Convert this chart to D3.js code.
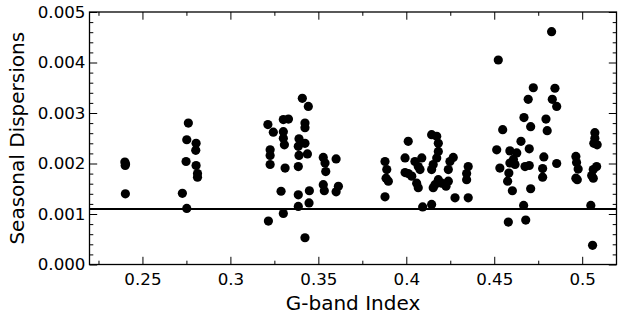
<!DOCTYPE html>
<html><head><meta charset="utf-8">
<script src="https://cdn.jsdelivr.net/npm/d3@7/dist/d3.min.js"></script>
<style>
html,body{margin:0;padding:0;background:#fff;}
svg{display:block;}
text{font-family:"DejaVu Sans",sans-serif;fill:#000;}
</style></head>
<body><svg id="chart" width="618" height="316"></svg>
<script>
// G-band index (x) and seasonal dispersion (y) of each star
const gIndex = [
  0.2400,0.2404,0.2402,0.2403,
  0.2761,0.2752,0.2805,0.2803,0.2748,0.2805,0.2813,0.2813,0.2727,0.2752,
  0.3409,0.3443,0.3213,0.3244,0.3301,0.3330,0.3424,0.3424,0.3301,0.3301,0.3307,0.3390,0.3424,0.3386,0.3390,0.3438,
  0.3226,0.3226,0.3226,0.3311,0.3386,0.3528,0.3538,0.3601,0.3542,0.3528,0.3534,0.3614,0.3601,0.3288,0.3386,0.3449,
  0.3386,0.3447,0.3301,0.3216,0.3424,
  0.3879,0.3889,0.3885,0.3898,0.3879,0.4011,0.3993,0.3993,0.4011,0.4031,0.4049,0.4068,0.4088,0.4078,0.4059,0.4068,
  0.4144,0.4173,0.4182,0.4182,0.4173,0.4153,0.4144,0.4182,0.4163,0.4153,0.4248,0.4239,0.4239,0.4201,0.4226,0.4093,
  0.4144,0.4277,0.4352,0.4352,0.4343,0.4343,0.4267,
  0.4826,0.4523,0.4722,0.4693,0.4845,0.4830,0.4855,0.4669,0.4707,0.4794,0.4801,0.4548,0.4514,0.4532,0.4589,0.4652,
  0.4699,0.4628,0.4609,0.4618,0.4589,0.4583,0.4576,0.4603,0.4675,0.4699,0.4707,0.4782,0.4775,0.4775,0.4855,0.4667,
  0.4580,0.4679,
  0.4964,0.4968,0.4977,0.4964,0.4972,0.5072,0.5072,0.5066,0.5085,0.5082,0.5063,0.5054,0.5063,0.5049,0.5059
];
const dispersion = [
  0.00203,0.00199,0.00196,0.00140,
  0.00280,0.00247,0.00240,0.00226,0.00204,0.00196,0.00180,0.00173,0.00141,0.00111,
  0.00329,0.00313,0.00277,0.00262,0.00287,0.00288,0.00280,0.00271,0.00263,0.00250,0.00237,0.00249,0.00240,0.00234,0.00216,0.00219,
  0.00227,0.00216,0.00198,0.00191,0.00194,0.00212,0.00201,0.00209,0.00184,0.00158,0.00146,0.00155,0.00144,0.00145,0.00138,0.00146,
  0.00115,0.00122,0.00101,0.00086,0.00053,
  0.00204,0.00188,0.00171,0.00165,0.00134,0.00244,0.00211,0.00182,0.00180,0.00175,0.00204,0.00194,0.00211,0.00188,0.00161,0.00152,
  0.00257,0.00254,0.00240,0.00224,0.00211,0.00198,0.00188,0.00168,0.00158,0.00152,0.00204,0.00188,0.00165,0.00161,0.00155,0.00114,
  0.00119,0.00132,0.00132,0.00194,0.00180,0.00168,0.00212,
  0.00461,0.00405,0.00350,0.00327,0.00349,0.00327,0.00313,0.00291,0.00273,0.00288,0.00265,0.00267,0.00227,0.00191,0.00225,0.00244,
  0.00229,0.00221,0.00208,0.00198,0.00201,0.00181,0.00165,0.00146,0.00194,0.00196,0.00150,0.00213,0.00190,0.00173,0.00200,0.00117,
  0.00084,0.00088,
  0.00214,0.00202,0.00189,0.00171,0.00168,0.00261,0.00250,0.00240,0.00237,0.00194,0.00188,0.00176,0.00171,0.00117,0.00038
];
const threshold = 0.0011;
const xTicks = [0.25,0.30,0.35,0.40,0.45,0.50];
const xTickLabels = ["0.25","0.3","0.35","0.4","0.45","0.5"];
const xMinorTicks = [0.225,0.275,0.325,0.375,0.425,0.475];
const yTicks = [0,0.001,0.002,0.003,0.004,0.005];
const yTickLabels = ["0.000","0.001","0.002","0.003","0.004","0.005"];
const yMinorTicks = d3.range(0,26).map(i=>i*0.0002).filter(v=>Math.round(v*10000)%10!==0);
const xLabel = "G-band Index";
const yLabel = "Seasonal Dispersions";

const L=89.5, R=616.5, T=12, B=264.5;
const svg = d3.select("#chart");
const x = d3.scaleLinear().domain([0.2199,0.5195]).range([L,R]);
const y = d3.scaleLinear().domain([0,0.005]).range([B,T]);

const tickFont = "16.7px";
function styleAxis(g){
  g.select(".domain").remove();
  g.selectAll(".tick line").attr("stroke","#000").attr("stroke-width",1);
  g.selectAll("text").style("font-size",tickFont).attr("fill","#000");
}

// bottom
svg.append("g").attr("transform",`translate(0,${B})`)
  .call(d3.axisBottom(x).tickValues(xTicks).tickFormat((d,i)=>xTickLabels[i]).tickSizeInner(-7.7).tickSizeOuter(0).tickPadding(9))
  .call(styleAxis);
svg.append("g").attr("transform",`translate(0,${B})`)
  .call(d3.axisBottom(x).tickValues(xMinorTicks).tickFormat("").tickSizeInner(-3.8).tickSizeOuter(0))
  .call(styleAxis);
// top
svg.append("g").attr("transform",`translate(0,${T})`)
  .call(d3.axisTop(x).tickValues(xTicks).tickFormat("").tickSizeInner(-7.7).tickSizeOuter(0))
  .call(styleAxis);
svg.append("g").attr("transform",`translate(0,${T})`)
  .call(d3.axisTop(x).tickValues(xMinorTicks).tickFormat("").tickSizeInner(-3.8).tickSizeOuter(0))
  .call(styleAxis);
// left
svg.append("g").attr("transform",`translate(${L},0)`)
  .call(d3.axisLeft(y).tickValues(yTicks).tickFormat((d,i)=>yTickLabels[i]).tickSizeInner(-7.7).tickSizeOuter(0).tickPadding(4))
  .call(styleAxis);
svg.append("g").attr("transform",`translate(${L},0)`)
  .call(d3.axisLeft(y).tickValues(yMinorTicks).tickFormat("").tickSizeInner(-3.8).tickSizeOuter(0))
  .call(styleAxis);
// right
svg.append("g").attr("transform",`translate(${R},0)`)
  .call(d3.axisRight(y).tickValues(yTicks).tickFormat("").tickSizeInner(-7.7).tickSizeOuter(0))
  .call(styleAxis);
svg.append("g").attr("transform",`translate(${R},0)`)
  .call(d3.axisRight(y).tickValues(yMinorTicks).tickFormat("").tickSizeInner(-3.8).tickSizeOuter(0))
  .call(styleAxis);

// points
const pts = gIndex.map((g,i)=>({g, d:dispersion[i]}));
svg.append("g").selectAll("circle").data(pts).join("circle")
  .attr("cx",p=>x(p.g)).attr("cy",p=>y(p.d)).attr("r",4.6).attr("fill","#000");

// threshold line
svg.append("line").attr("x1",L).attr("x2",R).attr("y1",y(threshold)).attr("y2",y(threshold))
  .attr("stroke","#000").attr("stroke-width",2);

// frame
svg.append("rect").attr("x",L).attr("y",T).attr("width",R-L).attr("height",B-T)
  .attr("fill","none").attr("stroke","#000").attr("stroke-width",1.3);

// labels
svg.append("text").attr("x",(L+R)/2).attr("y",310).attr("text-anchor","middle")
  .style("font-size","20px").text(xLabel);
svg.append("text").attr("transform",`translate(24,${(T+B)/2}) rotate(-90)`).attr("text-anchor","middle")
  .style("font-size","20px").text(yLabel);
</script></body></html>
